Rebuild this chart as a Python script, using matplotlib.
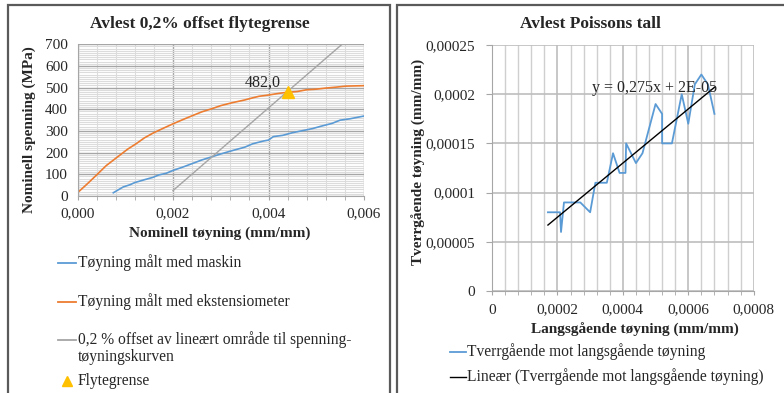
# Two Excel-style panels: 0.2 % offset yield strength and Poisson's ratio.
import matplotlib
matplotlib.use("Agg")
import matplotlib.pyplot as plt
from matplotlib.lines import Line2D
from matplotlib.patches import Rectangle
from matplotlib.ticker import MultipleLocator, FuncFormatter

plt.rcParams['font.family'] = ['Liberation Serif', 'DejaVu Serif']

# --- data, left panel (strain mm/mm, stress MPa) ---
ext_strain = [0.0, 0.0002, 0.0004, 0.0006, 0.00089, 0.00105, 0.00124, 0.0014, 0.00158,
              0.0018, 0.002, 0.0022, 0.00242, 0.0026, 0.00283, 0.003, 0.00325, 0.0035,
              0.00367, 0.0038, 0.004, 0.0042, 0.00437, 0.0046, 0.00479, 0.005, 0.0052,
              0.0054, 0.00562, 0.0058, 0.006]
ext_stress = [15, 55, 97, 140, 189, 216, 243, 268, 290, 313, 333, 352, 372, 388, 404,
              417, 431, 443, 453, 460, 466, 473, 478, 482, 490, 493, 498, 502, 507, 508, 509]

mach_strain = [0.00075, 0.00085, 0.00096, 0.0011, 0.0012, 0.0014, 0.00158, 0.0017, 0.00186,
               0.002, 0.0022, 0.00242, 0.0026, 0.00283, 0.003, 0.00325, 0.0035, 0.00367,
               0.0039, 0.004, 0.0041, 0.0043, 0.0045, 0.0047, 0.00492, 0.0051, 0.00533,
               0.0055, 0.0057, 0.006]
mach_stress = [15, 28, 42, 52, 62, 75, 86, 97, 105, 118, 133, 151, 166, 182, 194, 210, 225,
               241, 254, 258, 274, 280, 292, 301, 311, 322, 335, 350, 356, 369]

offset_strain = [0.002, 0.00554]
offset_stress = [25, 700]

yield_strain = [0.0044]
yield_stress = [482.0]

# --- data, right panel (longitudinal vs transverse strain) ---
long_strain = [0.000171, 0.000208, 0.000211, 0.00022, 0.00027, 0.0003, 0.000316, 0.000351,
               0.00037, 0.00039, 0.000408, 0.00041, 0.00044, 0.00046, 0.0005, 0.00052,
               0.00052, 0.00055, 0.00058, 0.0006, 0.00062, 0.00064, 0.00066, 0.00068]
trans_strain = [0.00008, 0.00008, 0.00006, 0.00009, 0.00009, 0.00008, 0.00011, 0.00011,
                0.00014, 0.00012, 0.00012, 0.00015, 0.00013, 0.00014, 0.00019, 0.00018,
                0.00015, 0.00015, 0.0002, 0.00017, 0.00021, 0.00022, 0.00021, 0.00018]
trend_slope = 0.275
trend_icept = 2e-05

BLUE = '#5b9bd5'
ORANGE = '#ed7d31'
GREY = '#a5a5a5'
GOLD = '#ffc000'
TXT = '#262626'


def comma(fmt):
    return FuncFormatter(lambda v, pos: fmt.format(v).replace('.', ','))


def poisson_fmt(v, pos):
    if abs(v) < 1e-12:
        return '0'
    return ('%.5f' % v).rstrip('0').replace('.', ',')


fig = plt.figure(figsize=(7.84, 3.93), dpi=100)
W, H = 784.0, 393.0


def fx(px):
    return px / W


def fy(py):
    return 1 - py / H


# panel frames
fig.add_artist(Rectangle((fx(8), fy(400)), fx(382), fy(5) - fy(400), fill=False,
                         edgecolor='#5a5a5a', lw=1.6, transform=fig.transFigure))
fig.add_artist(Rectangle((fx(397), fy(400)), fx(400), fy(5) - fy(400), fill=False,
                         edgecolor='#5a5a5a', lw=1.6, transform=fig.transFigure))

# ---------------- left panel ----------------
ax1 = fig.add_axes([fx(77.5), fy(196), fx(364) - fx(77.5), fy(44.3) - fy(196)])
ax1.set_xlim(0, 0.006)
ax1.set_ylim(0, 700)
ax1.xaxis.set_major_locator(MultipleLocator(0.002))
ax1.xaxis.set_minor_locator(MultipleLocator(0.0004))
ax1.yaxis.set_major_locator(MultipleLocator(100))
ax1.yaxis.set_minor_locator(MultipleLocator(10))
ax1.grid(which='minor', color='#dcdcdc', lw=0.8)
ax1.grid(which='major', color='#a6a6a6', lw=1.0)
ax1.set_axisbelow(True)
ax1.xaxis.set_major_formatter(comma('{:.3f}'))
ax1.tick_params(axis='both', which='both', labelsize=11, colors='#a6a6a6', labelcolor=TXT)
ax1.tick_params(axis='x', which='both', direction='out', length=3, pad=5)
ax1.tick_params(axis='y', which='both', length=0, pad=7)
for s in ['top', 'right']:
    ax1.spines[s].set_visible(False)
for s in ['left', 'bottom']:
    ax1.spines[s].set_color('#a6a6a6')

ax1.plot(mach_strain, mach_stress, color=BLUE, lw=1.2)
ax1.plot(ext_strain, ext_stress, color=ORANGE, lw=1.2)
ax1.plot(offset_strain, offset_stress, color=GREY, lw=1.0)
ax1.plot(yield_strain, yield_stress, ls='none', marker='^', color=GOLD, ms=9, clip_on=False)
ax1.text(0.00387, 523, '482,0', ha='center', va='center', fontsize=11.5, color=TXT)

ax1.set_title('Avlest 0,2% offset flytegrense', fontsize=12.5, fontweight='bold', color=TXT,
              pad=12, x=0.4276)
ax1.set_xlabel('Nominell tøyning (mm/mm)', fontsize=11, fontweight='bold', color=TXT, va='center')
ax1.set_ylabel('Nominell spenning (MPa)', fontsize=11, fontweight='bold', color=TXT, va='center')
ax1.xaxis.set_label_coords(0.497, -0.244)
ax1.yaxis.set_label_coords(-0.169, 0.435)

# left legend, placed like the Excel legend below the plot
LEG_FS = 11.2
left_items = [
    (263, dict(color=BLUE, lw=1.3), 'Tøyning målt med maskin'),
    (302, dict(color=ORANGE, lw=1.3), 'Tøyning målt med ekstensiometer'),
    (340, dict(color=GREY, lw=1.3), '0,2 % offset av lineært område til spenning-'),
]
for y, style, label in left_items:
    fig.add_artist(Line2D([fx(58), fx(76)], [fy(y), fy(y)], transform=fig.transFigure, **style))
    fig.text(fx(78), fy(y), label, fontsize=LEG_FS, va='center', ha='left', color=TXT)
fig.text(fx(78), fy(357), 'tøyningskurven', fontsize=LEG_FS, va='center', ha='left', color=TXT)
fig.add_artist(Line2D([fx(67)], [fy(381)], transform=fig.transFigure, ls='none',
                      marker='^', color=GOLD, ms=7))
fig.text(fx(78), fy(381), 'Flytegrense', fontsize=LEG_FS, va='center', ha='left', color=TXT)

# ---------------- right panel ----------------
ax2 = fig.add_axes([fx(492), fy(291), fx(753.7) - fx(492), fy(45) - fy(291)])
ax2.set_xlim(0, 0.0008)
ax2.set_ylim(0, 0.00025)
ax2.xaxis.set_major_locator(MultipleLocator(0.0002))
ax2.xaxis.set_minor_locator(MultipleLocator(0.00004))
ax2.yaxis.set_major_locator(MultipleLocator(0.00005))
ax2.grid(which='minor', axis='x', color='#cfcfcf', lw=1.0)
ax2.grid(which='major', color='#bdbdbd', lw=1.2)
ax2.set_axisbelow(True)
ax2.xaxis.set_major_formatter(FuncFormatter(poisson_fmt))
ax2.yaxis.set_major_formatter(FuncFormatter(poisson_fmt))
ax2.tick_params(axis='both', which='both', labelsize=11, colors='#a6a6a6', labelcolor=TXT)
ax2.tick_params(axis='x', which='both', direction='out', length=3, pad=6)
ax2.tick_params(axis='y', which='major', direction='out', length=4, pad=8)
for s in ['top', 'right']:
    ax2.spines[s].set_visible(False)
for s in ['left', 'bottom']:
    ax2.spines[s].set_color('#a6a6a6')

ax2.plot(long_strain, trans_strain, color=BLUE, lw=1.3)
trend_x = [min(long_strain), max(long_strain)]
trend_y = [trend_slope * v + trend_icept for v in trend_x]
ax2.plot(trend_x, trend_y, color='black', lw=1.0)
ax2.text(0.000306, 0.000206, 'y = 0,275x + 2E-05', ha='left', va='center', fontsize=11.5, color=TXT)

ax2.set_title('Avlest Poissons tall', fontsize=12.5, fontweight='bold', color=TXT, pad=12, x=0.378)
ax2.set_xlabel('Langsgående tøyning (mm/mm)', fontsize=11, fontweight='bold', color=TXT, va='center')
ax2.set_ylabel('Tverrgående tøyning (mm/mm)', fontsize=11, fontweight='bold', color=TXT, va='center')
ax2.xaxis.set_label_coords(0.546, -0.159)
ax2.yaxis.set_label_coords(-0.279, 0.524)

right_items = [
    (352, dict(color=BLUE, lw=1.3), 'Tverrgående mot langsgående tøyning'),
    (377, dict(color='black', lw=1.0), 'Lineær (Tverrgående mot langsgående tøyning)'),
]
for y, style, label in right_items:
    fig.add_artist(Line2D([fx(450), fx(466)], [fy(y), fy(y)], transform=fig.transFigure, **style))
    fig.text(fx(467), fy(y), label, fontsize=LEG_FS, va='center', ha='left', color=TXT)

fig.savefig('out.png', dpi=100)
